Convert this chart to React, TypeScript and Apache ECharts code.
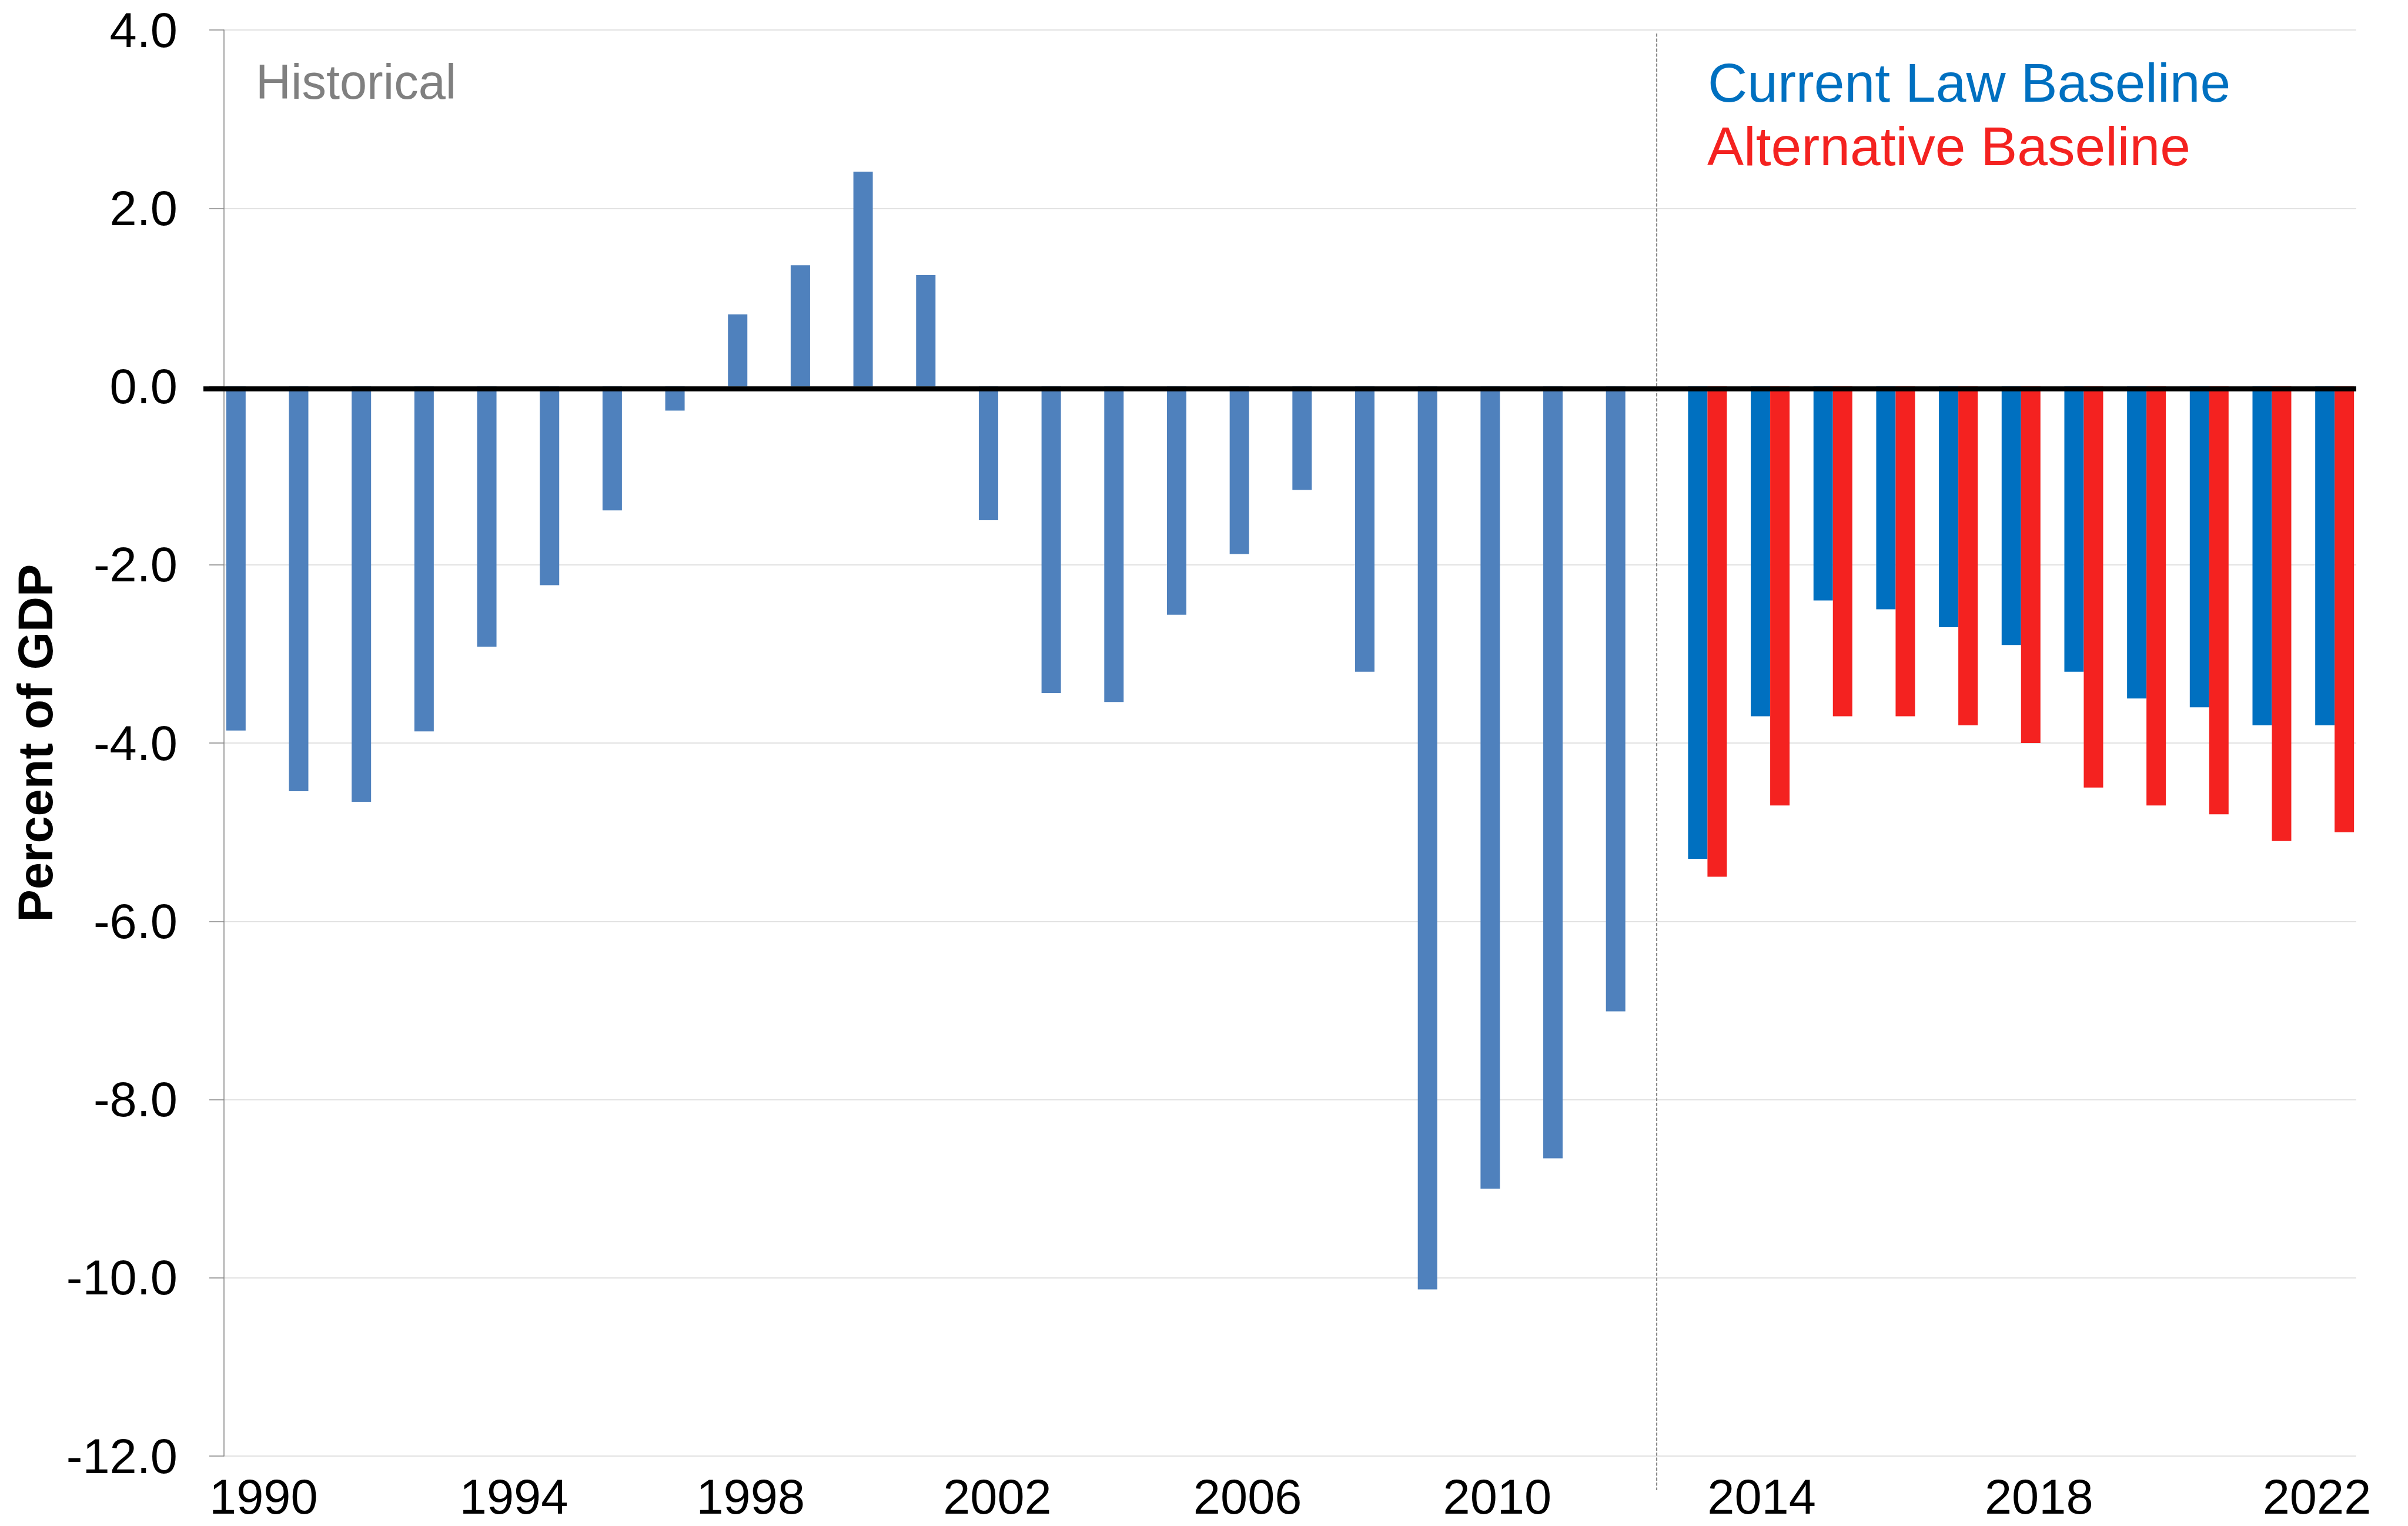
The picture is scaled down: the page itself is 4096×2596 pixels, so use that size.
import React, { useEffect, useRef } from 'react';
import * as echarts from 'echarts';

const FONT = '"Liberation Sans", Arial, Helvetica, sans-serif';

const years = [
  '1990', '1991', '1992', '1993', '1994', '1995', '1996', '1997', '1998', '1999',
  '2000', '2001', '2002', '2003', '2004', '2005', '2006', '2007', '2008', '2009',
  '2010', '2011', '2012', '2013', '2014', '2015', '2016', '2017', '2018', '2019',
  '2020', '2021', '2022', '2023',
];

const historical = [
  -3.86, -4.54, -4.66, -3.87, -2.92, -2.23, -1.39, -0.27, 0.81, 1.36,
  2.41, 1.25, -1.5, -3.44, -3.54, -2.56, -1.88, -1.16, -3.2, -10.13,
  -9.0, -8.66, -7.01, null, null, null, null, null, null, null,
  null, null, null, null,
];

const currentLaw = [
  null, null, null, null, null, null, null, null, null, null,
  null, null, null, null, null, null, null, null, null, null,
  null, null, null, -5.3, -3.7, -2.4, -2.5, -2.7, -2.9, -3.2,
  -3.5, -3.6, -3.8, -3.8,
];

const alternative = [
  null, null, null, null, null, null, null, null, null, null,
  null, null, null, null, null, null, null, null, null, null,
  null, null, null, -5.5, -4.7, -3.7, -3.7, -3.8, -4.0, -4.5,
  -4.7, -4.8, -5.1, -5.0,
];

// Tick labels shown on the year axis
const yearTickLabels = ['1990', '1994', '1998', '2002', '2006', '2010', '2014', '2018', '2022'];

const Y_MIN = -12;
const Y_MAX = 4;
const Y_STEP = 2;

const COLOR_HIST = '#4F81BD';
const COLOR_CUR = '#0070C0';
const COLOR_ALT = '#F42220';

const LABEL_HIST = 'Historical';
const LABEL_CUR = 'Current Law Baseline';
const LABEL_ALT = 'Alternative Baseline';

// horizontal nudges (px) of the year labels, as placed in the original figure
const LABEL_NUDGE: Record<string, number> = {
  '1990': 14, '1994': 13, '1998': -11, '2002': -18, '2006': -19,
  '2010': -21, '2014': 2, '2018': 47, '2022': 93,
};

export default function App() {
  const ref = useRef<HTMLDivElement>(null);

  useEffect(() => {
    document.body.style.margin = '0';
    const W = 4096;
    const H = 2596;
    const chart = echarts.init(ref.current!, null, { renderer: 'svg', width: W, height: H });
    const BAR_W = 33;
    const GRID = { left: 381, right: 88, top: 51, bottom: 119 };
    const LABEL_FS = 83;

    const rich: Record<string, any> = {};
    yearTickLabels.forEach((y) => {
      const d = LABEL_NUDGE[y] || 0;
      rich['y' + y] = {
        fontSize: LABEL_FS,
        color: '#000',
        fontFamily: FONT,
        padding: d >= 0 ? [0, 0, 0, 2 * d] : [0, -2 * d, 0, 0],
      };
    });

    chart.setOption({
      animation: false,
      backgroundColor: '#ffffff',
      textStyle: { fontFamily: FONT },
      grid: { ...GRID, containLabel: false },
      xAxis: {
        type: 'category',
        data: years,
        axisLine: { show: false },
        axisTick: { show: false },
        splitLine: { show: false },
        axisLabel: {
          interval: (_i: number, v: string) => yearTickLabels.indexOf(v) >= 0,
          fontSize: LABEL_FS,
          color: '#000',
          margin: 28,
          fontFamily: FONT,
          formatter: (v: string) => `{y${v}|${v}}`,
          rich,
        },
      },
      yAxis: {
        type: 'value',
        min: Y_MIN,
        max: Y_MAX,
        interval: Y_STEP,
        axisLine: { show: true, lineStyle: { color: '#868686', width: 1.5 } },
        axisTick: { show: true, length: 25, lineStyle: { color: '#868686', width: 1.5 } },
        axisLabel: {
          fontSize: LABEL_FS,
          color: '#000',
          margin: 79,
          fontFamily: FONT,
          formatter: (v: number) => v.toFixed(1),
        },
        splitLine: { show: true, lineStyle: { color: '#D9D9D9', width: 1.5 } },
        name: 'Percent of GDP',
        nameLocation: 'middle',
        nameGap: 272,
        nameTextStyle: { fontSize: LABEL_FS, fontWeight: 'bold', color: '#000', fontFamily: FONT },
      },
      series: [
        { name: LABEL_HIST, type: 'bar', data: historical, barWidth: BAR_W, barGap: '0%', itemStyle: { color: COLOR_HIST } },
        { name: LABEL_CUR, type: 'bar', data: currentLaw, barWidth: BAR_W, barGap: '0%', itemStyle: { color: COLOR_CUR } },
        { name: LABEL_ALT, type: 'bar', data: alternative, barWidth: BAR_W, barGap: '0%', itemStyle: { color: COLOR_ALT } },
      ],
    });

    const x12 = chart.convertToPixel({ xAxisIndex: 0 }, '2012') as number;
    const x13 = chart.convertToPixel({ xAxisIndex: 0 }, '2013') as number;
    const dashX = (x12 + x13) / 2 - BAR_W / 2;
    const yTop = chart.convertToPixel({ yAxisIndex: 0 }, Y_MAX) as number;
    const yBot = chart.convertToPixel({ yAxisIndex: 0 }, Y_MIN) as number;
    const y0 = chart.convertToPixel({ yAxisIndex: 0 }, 0) as number;

    chart.setOption({
      graphic: [
        {
          type: 'line',
          z: 100,
          shape: { x1: dashX, y1: yTop + 6, x2: dashX, y2: yBot + 58 },
          style: { stroke: '#868686', lineWidth: 2, lineDash: [5.5, 3] },
        },
        {
          type: 'line',
          z: 100,
          shape: { x1: GRID.left - 35, y1: y0 + 4, x2: W - GRID.right, y2: y0 + 4 },
          style: { stroke: '#000000', lineWidth: 8.5 },
        },
        {
          type: 'text',
          z: 100,
          x: 435,
          y: 139,
          style: { text: LABEL_HIST, fill: '#808080', fontSize: 83, fontFamily: FONT, align: 'left', verticalAlign: 'middle' },
        },
        {
          type: 'text',
          z: 100,
          x: 2905,
          y: 141,
          style: { text: LABEL_CUR, fill: COLOR_CUR, fontSize: 93, fontFamily: FONT, align: 'left', verticalAlign: 'middle' },
        },
        {
          type: 'text',
          z: 100,
          x: 2904,
          y: 249,
          style: { text: LABEL_ALT, fill: COLOR_ALT, fontSize: 93, fontFamily: FONT, align: 'left', verticalAlign: 'middle' },
        },
      ],
    });

    return () => {
      chart.dispose();
    };
  }, []);

  return (
    <div
      ref={ref}
      style={{ position: 'absolute', left: 0, top: 0, width: 4096, height: 2596, background: '#fff' }}
    />
  );
}
